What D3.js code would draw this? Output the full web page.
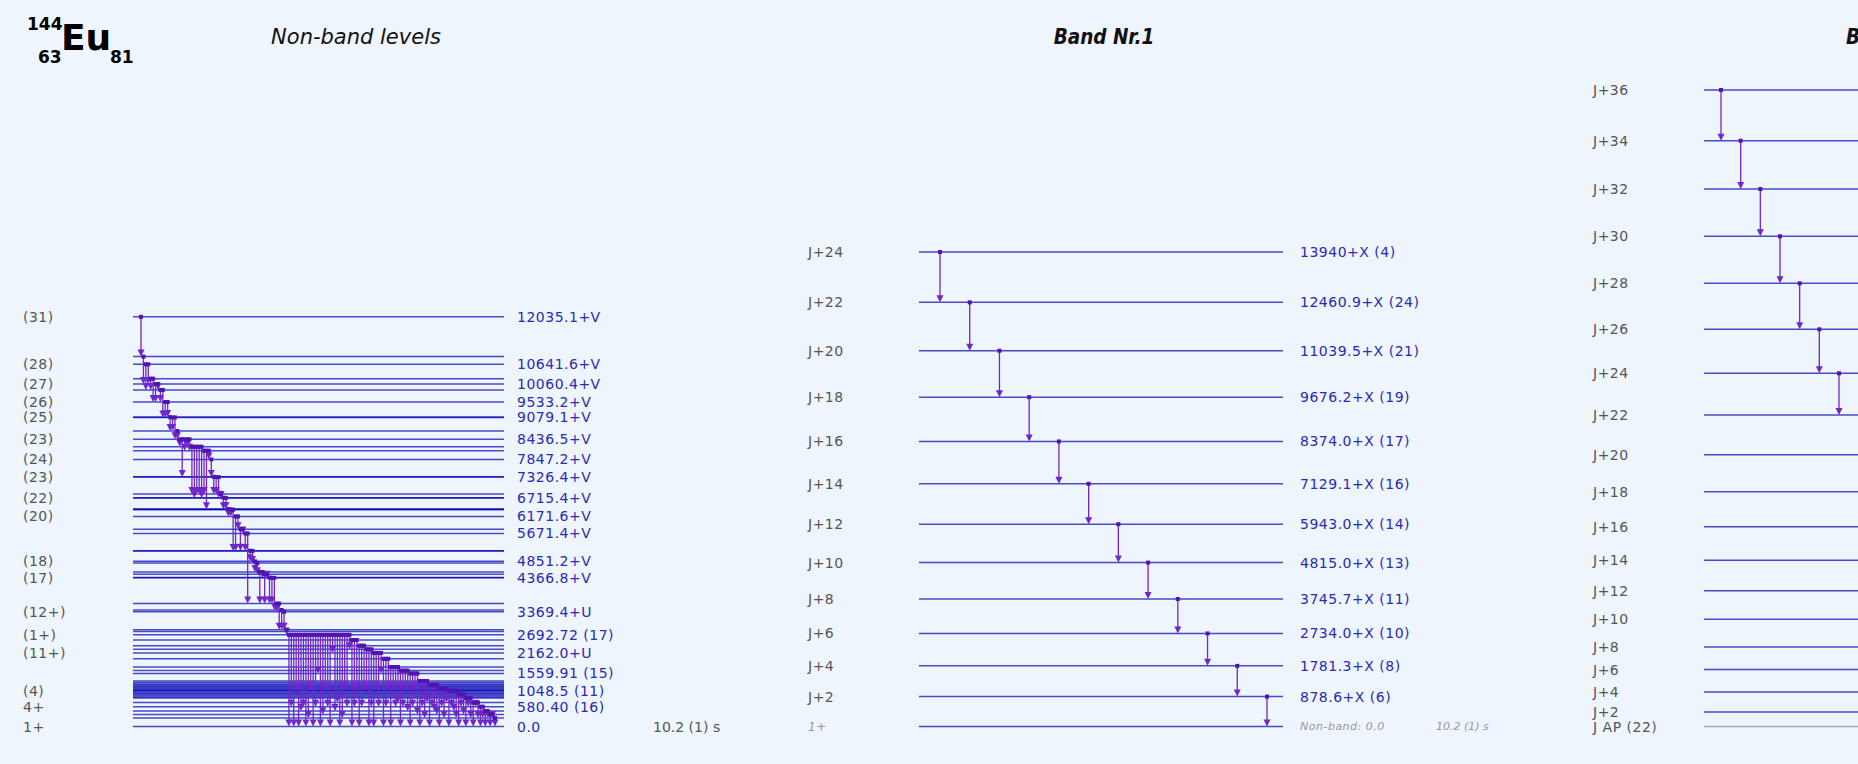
<!DOCTYPE html>
<html><head><meta charset="utf-8">
<script src="https://cdn.jsdelivr.net/npm/d3@7/dist/d3.min.js"></script>
<style>
html,body{margin:0;padding:0;background:#eef5fc;}
svg{display:block;font-family:"DejaVu Sans",sans-serif;}
</style></head>
<body>
<svg id="chart" width="1858" height="764"></svg>
<script>
// ---------------- DATA ----------------
// Non-band levels (keV), all drawn lines
const nbLevels = [12035.1,10867,10641.6,10219,10060.4,9887,9533.2,9090,9079.1,8681,8436.5,8219,8101,7847.2,
  7335,7326.4,6827,6722,6715.4,6390,6380,6370,6171.6,5797,5671.4,5165,5158,4851.2,4800,4540,4473,4375,4366.8,
  3611,3423,3369.4,2845,2791,2692.72,2541,2374,2268,2162.0,1989,1748,1642,1559.91,1337,1290,1250,1219,1180,1150,
  1119,1090,1060,1048.5,1010,980,946,900,870,840,702,580.40,455,352,250,0.0];
// labelled non-band levels
const nbLabelE   = [12035.1,10641.6,10060.4,9533.2,9079.1,8436.5,7847.2,7326.4,6715.4,6171.6,5671.4,4851.2,4366.8,3369.4,2692.72,2162.0,1559.91,1048.5,580.40,0.0];
const nbSpin     = ["(31)","(28)","(27)","(26)","(25)","(23)","(24)","(23)","(22)","(20)","","(18)","(17)","(12+)","(1+)","(11+)","","(4)","4+","1+"];
const nbELabel   = ["12035.1+V","10641.6+V","10060.4+V","9533.2+V","9079.1+V","8436.5+V","7847.2+V","7326.4+V","6715.4+V","6171.6+V","5671.4+V","4851.2+V","4366.8+V","3369.4+U","2692.72 (17)","2162.0+U","1559.91 (15)","1048.5 (11)","580.40 (16)","0.0"];
const nbHalfLife = "10.2 (1) s";
// non-band transitions [from, to] (keV), in drawing order
const nbTrans = [
 [12035.1,10867],[10867,10060.4],[10641.6,9887],[10641.6,10060.4],[10219,9887],[10219,9533.2],[10060.4,9533.2],
 [10060.4,9887],[9887,9533.2],[9887,9079.1],[9533.2,9079.1],[9533.2,9090],[9090,8681],[9079.1,8681],[9079.1,8436.5],
 [8681,8436.5],[8436.5,8219],[8436.5,7326.4],[8436.5,8101],[8436.5,8219],[8436.5,8101],
 [8219,6827],[8219,6715.4],[8219,6827],[8219,6827],[8219,6715.4],[8101,6827],[8101,6380],[8101,7847.2],
 [7847.2,7326.4],[7335,6827],[7326.4,6827],[7326.4,6722],[6827,6715.4],[6722,6380],[6715.4,6390],[6390,6171.6],
 [6380,6171.6],[6370,5158],[6171.6,5158],[6171.6,5797],[5797,5165],[5797,5671.4],[5671.4,5158],[5671.4,3611],
 [5165,4851.2],[5158,4800],[4851.2,4540],[4800,4473],[4540,3611],[4540,4375],[4473,3611],[4473,4366.8],[4375,3611],
 [4366.8,3611],[4366.8,3423],[3611,3369.4],[3611,2845],[3423,2845],[3369.4,2845],[2845,2692.72],
 [2692.72,0.0],[2692.72,580.40],[2692.72,0.0],[2692.72,1048.5],[2692.72,0.0],[2692.72,455],[2692.72,580.40],
 [2692.72,0.0],[2692.72,250],[2692.72,1048.5],[2692.72,0.0],[2692.72,580.40],[2692.72,1559.91],[2692.72,0.0],
 [2692.72,352],[2692.72,1048.5],[2692.72,580.40],[2692.72,0.0],[2692.72,2162.0],[2692.72,455],[2692.72,702],
 [2692.72,0.0],[2692.72,250],[2692.72,1048.5],[2692.72,580.40],[2692.72,2268],
 [2541,0.0],[2541,580.40],[2541,1048.5],[2374,0.0],[2374,580.40],[2374,1048.5],[2268,1048.5],[2268,0.0],[2268,580.40],
 [2162.0,0.0],[2162.0,1048.5],[2162.0,580.40],[2162.0,1559.91],[1989,0.0],[1989,580.40],[1989,1048.5],
 [1748,0.0],[1748,1048.5],[1748,580.40],[1748,702],[1642,0.0],[1642,580.40],[1642,1048.5],[1642,455],
 [1559.91,0.0],[1559.91,580.40],[1559.91,1048.5],[1559.91,352],[1337,0.0],[1337,580.40],[1337,250],[1337,702],
 [1219,0.0],[1219,580.40],[1219,455],[1219,352],[1119,0.0],[1119,580.40],[1119,250],[1119,702],
 [1048.5,0.0],[1048.5,580.40],[1048.5,455],[1048.5,250],[946,0.0],[946,580.40],[946,352],
 [840,0.0],[840,580.40],[840,250],[702,0.0],[702,580.40],[702,250],[580.40,0.0],[580.40,250],
 [455,0.0],[455,250],[352,0.0],[352,250],[250,0.0]
];

// Band Nr.1
const b1Levels = [0.0,878.6,1781.3,2734.0,3745.7,4815.0,5943.0,7129.1,8374.0,9676.2,11039.5,12460.9,13940];
const b1Spin   = ["1+","J+2","J+4","J+6","J+8","J+10","J+12","J+14","J+16","J+18","J+20","J+22","J+24"];
const b1ELabel = ["Non-band: 0.0","878.6+X (6)","1781.3+X (8)","2734.0+X (10)","3745.7+X (11)","4815.0+X (13)","5943.0+X (14)",
                  "7129.1+X (16)","8374.0+X (17)","9676.2+X (19)","11039.5+X (21)","12460.9+X (24)","13940+X (4)"];
const b1HalfLife = "10.2 (1) s";
const b1Trans = [[13940,12460.9],[12460.9,11039.5],[11039.5,9676.2],[9676.2,8374.0],[8374.0,7129.1],[7129.1,5943.0],
                 [5943.0,4815.0],[4815.0,3745.7],[3745.7,2734.0],[2734.0,1781.3],[1781.3,878.6],[878.6,0.0]];

// Band Nr.2
const b2Levels = [0,426,1014,1675,2335,3149,3989,4882,5870,6898,7985,9151,10376,11669,13020,14401,15790,17209,18699];
const b2Spin   = ["J AP (22)","J+2","J+4","J+6","J+8","J+10","J+12","J+14","J+16","J+18","J+20","J+22","J+24","J+26","J+28","J+30","J+32","J+34","J+36"];
const b2Trans  = [[18699,17209],[17209,15790],[15790,14401],[14401,13020],[13020,11669],[11669,10376],[10376,9151]];

const titles = ["Non-band levels","Band Nr.1","Band Nr.2"];

// ---------------- DRAWING ----------------
const svg = d3.select("#chart");
const W = 1858, H = 764;
svg.append("rect").attr("width",W).attr("height",H).attr("fill","#eef5fc");

const y = d3.scaleLinear().domain([0, 18699]).range([726.5, 90]);

const LVL = "#0000b4", ARR = "#7026c8", SQ = "#5214b0", LAB = "#2a2ab4", GREY = "#555";

function arrows(g, trans, xs){
  const a = g.append("g");
  trans.forEach((t,i)=>{
    const x = xs(i), y0 = y(t[0]), y1 = y(t[1]);
    a.append("line").attr("x1",x).attr("x2",x).attr("y1",y0).attr("y2",y1-5)
      .attr("stroke",ARR).attr("stroke-width",1.3);
    a.append("path").attr("d",`M${x-3.5},${y1-7}L${x+3.5},${y1-7}L${x},${y1}Z`).attr("fill",ARR);
  });
  trans.forEach((t,i)=>{
    const x = xs(i), y0 = y(t[0]);
    a.append("rect").attr("x",x-2).attr("y",y0-2).attr("width",4).attr("height",4).attr("fill",SQ);
  });
}

// Nucleus label
const nuc = svg.append("g").attr("font-weight","bold").attr("fill","#000");
nuc.append("text").attr("x",27).attr("y",30).attr("font-size",17).text("144");
nuc.append("text").attr("x",38).attr("y",63).attr("font-size",17).text("63");
nuc.append("text").attr("x",61).attr("y",50).attr("font-size",36).text("Eu");
nuc.append("text").attr("x",110).attr("y",63).attr("font-size",17).text("81");

// Titles
svg.append("text").attr("x",356).attr("y",44).attr("text-anchor","middle").attr("font-size",21)
  .attr("font-style","italic").attr("fill","#111").text(titles[0]);
svg.append("text").attr("x",1104).attr("y",44).attr("text-anchor","middle").attr("font-size",20.5)
  .attr("font-style","italic").attr("font-weight","bold")
  .attr("font-family","'DejaVu Sans Condensed','DejaVu Sans',sans-serif").attr("fill","#111").text(titles[1]);
svg.append("text").attr("x",1846).attr("y",44).attr("font-size",20.5)
  .attr("font-style","italic").attr("font-weight","bold")
  .attr("font-family","'DejaVu Sans Condensed','DejaVu Sans',sans-serif").attr("fill","#111").text(titles[2]);

// ---- Non-band panel
const nb = svg.append("g");
nb.selectAll("line.lv").data(nbLevels).join("line").attr("class","lv")
  .attr("x1",133).attr("x2",504).attr("y1",d=>y(d)).attr("y2",d=>y(d))
  .attr("stroke",LVL).attr("stroke-opacity",0.7).attr("stroke-width",1.5);
nb.selectAll("text.sp").data(nbLabelE).join("text").attr("class","sp")
  .attr("x",23).attr("y",d=>y(d)).attr("dy","0.36em").attr("font-size",14).attr("fill",GREY)
  .attr("letter-spacing",0.5).text((d,i)=>nbSpin[i]);
nb.selectAll("text.el").data(nbLabelE).join("text").attr("class","el")
  .attr("x",517).attr("y",d=>y(d)).attr("dy","0.36em").attr("font-size",14).attr("fill",LAB)
  .attr("letter-spacing",0.5).text((d,i)=>nbELabel[i]);
nb.append("text").attr("x",653).attr("y",y(0)).attr("dy","0.36em").attr("font-size",14).attr("fill",GREY)
  .text(nbHalfLife);
arrows(nb, nbTrans, d3.scaleLinear().domain([0, nbTrans.length-1]).range([141, 495]));

// ---- Band 1
const b1 = svg.append("g");
b1.selectAll("line.lv").data(b1Levels).join("line").attr("class","lv")
  .attr("x1",919).attr("x2",1283).attr("y1",d=>y(d)).attr("y2",d=>y(d))
  .attr("stroke",LVL).attr("stroke-opacity",0.7).attr("stroke-width",1.5);
b1.selectAll("text.sp").data(b1Levels).join("text").attr("class","sp")
  .attr("x",808).attr("y",d=>y(d)).attr("dy","0.36em")
  .attr("font-size",(d,i)=>i===0?12:14).attr("font-style",(d,i)=>i===0?"italic":"normal")
  .attr("fill",(d,i)=>i===0?"#999":GREY).attr("letter-spacing",0.5).text((d,i)=>b1Spin[i]);
b1.selectAll("text.el").data(b1Levels).join("text").attr("class","el")
  .attr("x",1300).attr("y",d=>y(d)).attr("dy","0.36em")
  .attr("font-size",(d,i)=>i===0?11:14).attr("font-style",(d,i)=>i===0?"italic":"normal")
  .attr("fill",(d,i)=>i===0?"#999":LAB).attr("letter-spacing",0.5).text((d,i)=>b1ELabel[i]);
b1.append("text").attr("x",1436).attr("y",y(0)).attr("dy","0.36em").attr("font-size",11)
  .attr("font-style","italic").attr("fill","#999").text(b1HalfLife);
arrows(b1, b1Trans, d3.scaleLinear().domain([0, b1Trans.length-1]).range([940, 1267]));

// ---- Band 2
const b2 = svg.append("g");
b2.selectAll("line.lv").data(b2Levels).join("line").attr("class","lv")
  .attr("x1",1704).attr("x2",2068).attr("y1",d=>y(d)).attr("y2",d=>y(d))
  .attr("stroke",(d,i)=>i===0?"#aaa":LVL).attr("stroke-opacity",(d,i)=>i===0?1:0.7).attr("stroke-width",1.5);
b2.selectAll("text.sp").data(b2Levels).join("text").attr("class","sp")
  .attr("x",1593).attr("y",d=>y(d)).attr("dy","0.36em").attr("font-size",14).attr("fill",GREY)
  .attr("letter-spacing",0.5).text((d,i)=>b2Spin[i]);
arrows(b2, b2Trans, d3.scaleLinear().domain([0, b2Trans.length-1]).range([1721, 1839]));
</script>
</body></html>
